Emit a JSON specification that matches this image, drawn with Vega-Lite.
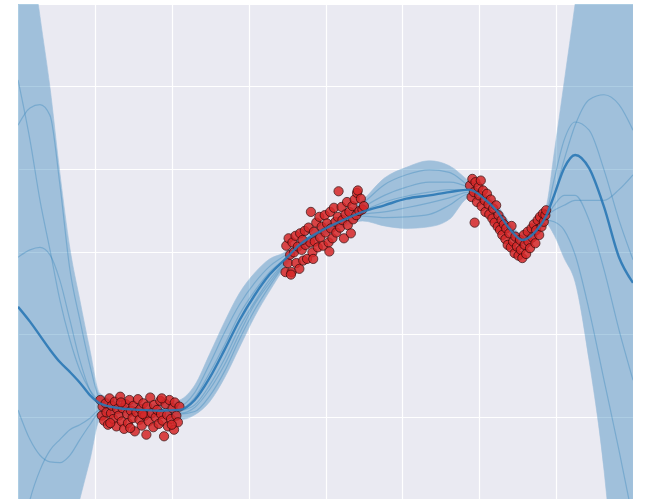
{
  "$schema": "https://vega.github.io/schema/vega-lite/v6.json",
  "width": 615,
  "height": 495,
  "autosize": {"type": "none"},
  "padding": {"left": 18, "top": 4, "right": 18, "bottom": 0},
  "background": "white",
  "config": {
    "view": {"fill": "#EAEAF2", "stroke": null},
    "axis": {"domain": false, "ticks": false, "labels": false, "title": null, "gridColor": "white", "gridWidth": 1.2, "gridOpacity": 1}
  },
  "datasets": {
    "curve": [
      {"x": 0.000, "mean": -0.67, "lo": -11.50, "hi": 6.08, "s1": 1.53, "s2": 2.08, "s3": -0.07, "s4": -1.92, "s5": -3.74},
      {"x": 0.156, "mean": -0.85, "lo": -8.47, "hi": 3.78, "s1": 1.74, "s2": 1.35, "s3": 0.02, "s4": -2.28, "s5": -3.01},
      {"x": 0.286, "mean": -1.02, "lo": -6.65, "hi": 2.85, "s1": 1.78, "s2": 0.62, "s3": 0.05, "s4": -2.47, "s5": -2.65},
      {"x": 0.416, "mean": -1.19, "lo": -5.19, "hi": 1.99, "s1": 1.65, "s2": 0.02, "s3": -0.04, "s4": -2.55, "s5": -2.41},
      {"x": 0.545, "mean": -1.34, "lo": -4.10, "hi": 0.95, "s1": 0.81, "s2": -0.59, "s3": -0.35, "s4": -2.56, "s5": -2.28},
      {"x": 0.675, "mean": -1.46, "lo": -3.50, "hi": 0.04, "s1": -0.22, "s2": -1.07, "s3": -0.83, "s4": -2.47, "s5": -2.16},
      {"x": 0.805, "mean": -1.59, "lo": -3.00, "hi": -0.59, "s1": -0.83, "s2": -1.44, "s3": -1.32, "s4": -2.28, "s5": -2.10},
      {"x": 0.935, "mean": -1.74, "lo": -2.53, "hi": -1.19, "s1": -1.38, "s2": -1.68, "s3": -1.68, "s4": -2.10, "s5": -2.02},
      {"x": 1.065, "mean": -1.84, "lo": -2.04, "hi": -1.72, "s1": -1.78, "s2": -1.82, "s3": -1.85, "s4": -1.95, "s5": -1.92},
      {"x": 1.325, "mean": -1.90, "lo": -1.99, "hi": -1.81, "s1": -1.87, "s2": -1.92, "s3": -1.88, "s4": -1.95, "s5": -1.91},
      {"x": 1.584, "mean": -1.92, "lo": -2.01, "hi": -1.84, "s1": -1.90, "s2": -1.95, "s3": -1.91, "s4": -1.96, "s5": -1.93},
      {"x": 1.844, "mean": -1.93, "lo": -2.02, "hi": -1.85, "s1": -1.91, "s2": -1.96, "s3": -1.92, "s4": -1.97, "s5": -1.95},
      {"x": 2.104, "mean": -1.92, "lo": -2.04, "hi": -1.80, "s1": -1.88, "s2": -1.96, "s3": -1.91, "s4": -1.97, "s5": -1.93},
      {"x": 2.299, "mean": -1.80, "lo": -1.98, "hi": -1.62, "s1": -1.71, "s2": -1.89, "s3": -1.77, "s4": -1.94, "s5": -1.86},
      {"x": 2.494, "mean": -1.53, "lo": -1.82, "hi": -1.24, "s1": -1.36, "s2": -1.67, "s3": -1.47, "s4": -1.75, "s5": -1.62},
      {"x": 2.688, "mean": -1.19, "lo": -1.53, "hi": -0.85, "s1": -0.98, "s2": -1.37, "s3": -1.13, "s4": -1.45, "s5": -1.30},
      {"x": 2.883, "mean": -0.83, "lo": -1.16, "hi": -0.50, "s1": -0.64, "s2": -0.99, "s3": -0.76, "s4": -1.06, "s5": -0.92},
      {"x": 3.078, "mean": -0.53, "lo": -0.79, "hi": -0.26, "s1": -0.38, "s2": -0.64, "s3": -0.48, "s4": -0.71, "s5": -0.61},
      {"x": 3.273, "mean": -0.28, "lo": -0.48, "hi": -0.09, "s1": -0.18, "s2": -0.38, "s3": -0.25, "s4": -0.42, "s5": -0.34},
      {"x": 3.468, "mean": -0.10, "lo": -0.20, "hi": -0.01, "s1": -0.05, "s2": -0.14, "s3": -0.09, "s4": -0.16, "s5": -0.13},
      {"x": 3.662, "mean": 0.08, "lo": 0.01, "hi": 0.15, "s1": 0.10, "s2": 0.05, "s3": 0.09, "s4": 0.04, "s5": 0.07},
      {"x": 3.922, "mean": 0.24, "lo": 0.16, "hi": 0.31, "s1": 0.26, "s2": 0.21, "s3": 0.25, "s4": 0.20, "s5": 0.22},
      {"x": 4.182, "mean": 0.36, "lo": 0.28, "hi": 0.43, "s1": 0.38, "s2": 0.33, "s3": 0.37, "s4": 0.32, "s5": 0.36},
      {"x": 4.481, "mean": 0.48, "lo": 0.37, "hi": 0.62, "s1": 0.58, "s2": 0.53, "s3": 0.45, "s4": 0.43, "s5": 0.49},
      {"x": 4.766, "mean": 0.56, "lo": 0.31, "hi": 0.89, "s1": 0.81, "s2": 0.68, "s3": 0.48, "s4": 0.41, "s5": 0.60},
      {"x": 5.052, "mean": 0.64, "lo": 0.28, "hi": 1.02, "s1": 0.93, "s2": 0.78, "s3": 0.53, "s4": 0.42, "s5": 0.67},
      {"x": 5.351, "mean": 0.68, "lo": 0.30, "hi": 1.10, "s1": 0.99, "s2": 0.84, "s3": 0.59, "s4": 0.45, "s5": 0.72},
      {"x": 5.610, "mean": 0.72, "lo": 0.39, "hi": 1.04, "s1": 0.96, "s2": 0.84, "s3": 0.65, "s4": 0.56, "s5": 0.75},
      {"x": 5.870, "mean": 0.75, "lo": 0.65, "hi": 0.85, "s1": 0.79, "s2": 0.77, "s3": 0.72, "s4": 0.70, "s5": 0.75},
      {"x": 6.065, "mean": 0.64, "lo": 0.56, "hi": 0.71, "s1": 0.67, "s2": 0.65, "s3": 0.61, "s4": 0.60, "s5": 0.64},
      {"x": 6.221, "mean": 0.50, "lo": 0.43, "hi": 0.58, "s1": 0.54, "s2": 0.52, "s3": 0.48, "s4": 0.47, "s5": 0.50},
      {"x": 6.390, "mean": 0.28, "lo": 0.21, "hi": 0.36, "s1": 0.32, "s2": 0.30, "s3": 0.26, "s4": 0.25, "s5": 0.28},
      {"x": 6.558, "mean": 0.14, "lo": 0.07, "hi": 0.21, "s1": 0.18, "s2": 0.15, "s3": 0.12, "s4": 0.10, "s5": 0.14},
      {"x": 6.740, "mean": 0.25, "lo": 0.18, "hi": 0.32, "s1": 0.28, "s2": 0.26, "s3": 0.22, "s4": 0.21, "s5": 0.25},
      {"x": 6.870, "mean": 0.43, "lo": 0.33, "hi": 0.54, "s1": 0.45, "s2": 0.44, "s3": 0.38, "s4": 0.41, "s5": 0.43},
      {"x": 6.974, "mean": 0.68, "lo": 0.20, "hi": 1.19, "s1": 0.68, "s2": 0.87, "s3": 0.36, "s4": 0.56, "s5": 0.50},
      {"x": 7.104, "mean": 1.01, "lo": -0.08, "hi": 2.05, "s1": 1.11, "s2": 1.35, "s3": 0.26, "s4": 0.68, "s5": 0.56},
      {"x": 7.247, "mean": 1.17, "lo": -0.37, "hi": 3.00, "s1": 1.53, "s2": 1.57, "s3": -0.04, "s4": 0.68, "s5": 0.62},
      {"x": 7.429, "mean": 1.01, "lo": -1.32, "hi": 4.26, "s1": 1.84, "s2": 1.47, "s3": -0.71, "s4": 0.38, "s5": 0.62},
      {"x": 7.623, "mean": 0.54, "lo": -2.65, "hi": 5.72, "s1": 1.90, "s2": 0.99, "s3": -1.56, "s4": -0.22, "s5": 0.62},
      {"x": 7.818, "mean": -0.07, "lo": -4.71, "hi": 7.29, "s1": 1.78, "s2": 0.38, "s3": -2.41, "s4": -0.95, "s5": 0.75},
      {"x": 8.000, "mean": -0.38, "lo": -7.25, "hi": 9.11, "s1": 1.47, "s2": -0.10, "s3": -3.25, "s4": -1.56, "s5": 0.93}
    ],
    "obs": [
      {"x": 1.07, "y": -1.80}, {"x": 1.09, "y": -1.99}, {"x": 1.10, "y": -1.88}, {"x": 1.12, "y": -2.05},
      {"x": 1.14, "y": -1.84}, {"x": 1.15, "y": -1.95}, {"x": 1.17, "y": -2.10}, {"x": 1.19, "y": -1.78},
      {"x": 1.21, "y": -1.96}, {"x": 1.22, "y": -1.87}, {"x": 1.24, "y": -2.03}, {"x": 1.26, "y": -1.82},
      {"x": 1.28, "y": -2.12}, {"x": 1.29, "y": -1.91}, {"x": 1.31, "y": -1.99}, {"x": 1.33, "y": -1.76},
      {"x": 1.35, "y": -2.06}, {"x": 1.36, "y": -1.90}, {"x": 1.38, "y": -2.15}, {"x": 1.40, "y": -1.85},
      {"x": 1.42, "y": -1.97}, {"x": 1.43, "y": -2.08}, {"x": 1.45, "y": -1.80}, {"x": 1.47, "y": -1.93},
      {"x": 1.49, "y": -2.02}, {"x": 1.50, "y": -1.87}, {"x": 1.52, "y": -2.18}, {"x": 1.54, "y": -1.95},
      {"x": 1.56, "y": -1.79}, {"x": 1.58, "y": -2.04}, {"x": 1.59, "y": -1.91}, {"x": 1.61, "y": -2.11},
      {"x": 1.63, "y": -1.84}, {"x": 1.65, "y": -1.99}, {"x": 1.67, "y": -2.22}, {"x": 1.68, "y": -1.88},
      {"x": 1.70, "y": -2.06}, {"x": 1.72, "y": -1.77}, {"x": 1.74, "y": -1.96}, {"x": 1.76, "y": -2.13},
      {"x": 1.77, "y": -1.86}, {"x": 1.79, "y": -2.01}, {"x": 1.81, "y": -1.92}, {"x": 1.83, "y": -2.09},
      {"x": 1.85, "y": -1.81}, {"x": 1.86, "y": -1.97}, {"x": 1.88, "y": -2.05}, {"x": 1.90, "y": -2.24},
      {"x": 1.92, "y": -1.85}, {"x": 1.94, "y": -1.98}, {"x": 1.95, "y": -2.12}, {"x": 1.97, "y": -1.80},
      {"x": 1.99, "y": -2.03}, {"x": 2.01, "y": -1.90}, {"x": 2.03, "y": -2.16}, {"x": 2.04, "y": -1.83},
      {"x": 2.06, "y": -1.99}, {"x": 2.08, "y": -2.07}, {"x": 2.10, "y": -1.88}, {"x": 1.20, "y": -2.08},
      {"x": 1.46, "y": -2.14}, {"x": 1.62, "y": -1.97}, {"x": 1.87, "y": -1.78}, {"x": 2.00, "y": -2.10},
      {"x": 1.34, "y": -1.83},
      {"x": 3.48, "y": -0.25}, {"x": 3.49, "y": 0.07}, {"x": 3.51, "y": -0.14}, {"x": 3.52, "y": 0.16},
      {"x": 3.54, "y": -0.04}, {"x": 3.56, "y": -0.25}, {"x": 3.57, "y": 0.11}, {"x": 3.59, "y": -0.01},
      {"x": 3.61, "y": 0.19}, {"x": 3.62, "y": -0.14}, {"x": 3.64, "y": 0.06}, {"x": 3.66, "y": -0.21},
      {"x": 3.67, "y": 0.22}, {"x": 3.69, "y": 0.02}, {"x": 3.71, "y": -0.11}, {"x": 3.73, "y": 0.25},
      {"x": 3.74, "y": 0.08}, {"x": 3.76, "y": -0.09}, {"x": 3.78, "y": 0.29}, {"x": 3.80, "y": 0.11},
      {"x": 3.81, "y": 0.48}, {"x": 3.83, "y": -0.01}, {"x": 3.85, "y": 0.24}, {"x": 3.86, "y": 0.12},
      {"x": 3.88, "y": 0.35}, {"x": 3.90, "y": 0.05}, {"x": 3.92, "y": 0.42}, {"x": 3.93, "y": 0.17},
      {"x": 3.95, "y": 0.30}, {"x": 3.97, "y": 0.07}, {"x": 3.99, "y": 0.44}, {"x": 4.00, "y": 0.23},
      {"x": 4.02, "y": 0.34}, {"x": 4.04, "y": 0.11}, {"x": 4.06, "y": 0.48}, {"x": 4.07, "y": 0.28},
      {"x": 4.09, "y": 0.16}, {"x": 4.11, "y": 0.53}, {"x": 4.13, "y": 0.36}, {"x": 4.14, "y": 0.23},
      {"x": 4.16, "y": 0.42}, {"x": 4.17, "y": 0.73}, {"x": 4.19, "y": 0.29}, {"x": 4.21, "y": 0.54},
      {"x": 4.22, "y": 0.38}, {"x": 4.24, "y": 0.16}, {"x": 4.26, "y": 0.45}, {"x": 4.28, "y": 0.60},
      {"x": 4.29, "y": 0.32}, {"x": 4.31, "y": 0.48}, {"x": 4.33, "y": 0.22}, {"x": 4.35, "y": 0.55},
      {"x": 4.36, "y": 0.39}, {"x": 4.38, "y": 0.63}, {"x": 4.40, "y": 0.44}, {"x": 4.41, "y": 0.71},
      {"x": 4.42, "y": 0.74}, {"x": 4.44, "y": 0.49}, {"x": 4.46, "y": 0.64}, {"x": 4.48, "y": 0.51},
      {"x": 4.50, "y": 0.55}, {"x": 3.55, "y": -0.28}, {"x": 3.70, "y": 0.14}, {"x": 3.84, "y": -0.09},
      {"x": 4.05, "y": 0.00},
      {"x": 5.88, "y": 0.80}, {"x": 5.90, "y": 0.66}, {"x": 5.91, "y": 0.88}, {"x": 5.93, "y": 0.72},
      {"x": 5.94, "y": 0.35}, {"x": 5.95, "y": 0.84}, {"x": 5.97, "y": 0.60}, {"x": 5.99, "y": 0.78},
      {"x": 6.00, "y": 0.68}, {"x": 6.02, "y": 0.86}, {"x": 6.03, "y": 0.55}, {"x": 6.05, "y": 0.74},
      {"x": 6.07, "y": 0.62}, {"x": 6.08, "y": 0.48}, {"x": 6.10, "y": 0.70}, {"x": 6.12, "y": 0.57},
      {"x": 6.13, "y": 0.45}, {"x": 6.15, "y": 0.63}, {"x": 6.17, "y": 0.40}, {"x": 6.18, "y": 0.52},
      {"x": 6.20, "y": 0.35}, {"x": 6.22, "y": 0.56}, {"x": 6.24, "y": 0.30}, {"x": 6.25, "y": 0.44},
      {"x": 6.27, "y": 0.26}, {"x": 6.29, "y": 0.38}, {"x": 6.30, "y": 0.20}, {"x": 6.32, "y": 0.33},
      {"x": 6.34, "y": 0.15}, {"x": 6.35, "y": 0.28}, {"x": 6.37, "y": 0.08}, {"x": 6.39, "y": 0.22},
      {"x": 6.41, "y": 0.05}, {"x": 6.42, "y": 0.31}, {"x": 6.44, "y": 0.12}, {"x": 6.46, "y": -0.02},
      {"x": 6.47, "y": 0.18}, {"x": 6.49, "y": 0.06}, {"x": 6.51, "y": -0.05}, {"x": 6.53, "y": 0.14},
      {"x": 6.54, "y": 0.02}, {"x": 6.56, "y": -0.08}, {"x": 6.58, "y": 0.20}, {"x": 6.59, "y": 0.08},
      {"x": 6.61, "y": -0.03}, {"x": 6.63, "y": 0.24}, {"x": 6.64, "y": 0.12}, {"x": 6.66, "y": 0.04},
      {"x": 6.68, "y": 0.28}, {"x": 6.69, "y": 0.17}, {"x": 6.71, "y": 0.33}, {"x": 6.73, "y": 0.10},
      {"x": 6.74, "y": 0.26}, {"x": 6.76, "y": 0.38}, {"x": 6.78, "y": 0.20}, {"x": 6.79, "y": 0.42},
      {"x": 6.81, "y": 0.30}, {"x": 6.83, "y": 0.46}, {"x": 6.84, "y": 0.36}, {"x": 6.86, "y": 0.44},
      {"x": 6.87, "y": 0.50}
    ]
  },
  "layer": [
    {
      "data": {"name": "curve"},
      "mark": {"type": "area", "interpolate": "monotone", "clip": true, "color": "#1f77b4", "opacity": 0.36, "stroke": "#1f77b4", "strokeWidth": 1, "strokeOpacity": 0.6},
      "encoding": {
        "x": {"field": "x", "type": "quantitative", "scale": {"domain": [0, 8], "nice": false, "zero": false}, "axis": {"tickCount": 8}},
        "y": {"field": "lo", "type": "quantitative", "scale": {"domain": [-3, 3], "nice": false, "zero": false}, "axis": {"tickCount": 6}},
        "y2": {"field": "hi"}
      }
    },
    {
      "data": {"name": "curve"},
      "transform": [{"fold": ["s1", "s2", "s3", "s4", "s5"], "as": ["draw", "value"]}],
      "mark": {"type": "line", "interpolate": "monotone", "clip": true, "color": "#1f77b4", "strokeWidth": 1.2, "opacity": 0.3},
      "encoding": {
        "x": {"field": "x", "type": "quantitative"},
        "y": {"field": "value", "type": "quantitative"},
        "detail": {"field": "draw", "type": "nominal"}
      }
    },
    {
      "data": {"name": "obs"},
      "mark": {"type": "circle", "size": 85, "color": "#d62728", "opacity": 0.85, "stroke": "#3a0a0a", "strokeWidth": 0.9, "clip": true},
      "encoding": {
        "x": {"field": "x", "type": "quantitative"},
        "y": {"field": "y", "type": "quantitative"}
      }
    },
    {
      "data": {"name": "curve"},
      "mark": {"type": "line", "interpolate": "monotone", "clip": true, "color": "#2a78b5", "strokeWidth": 2.4, "opacity": 0.9},
      "encoding": {
        "x": {"field": "x", "type": "quantitative"},
        "y": {"field": "mean", "type": "quantitative"}
      }
    }
  ]
}
